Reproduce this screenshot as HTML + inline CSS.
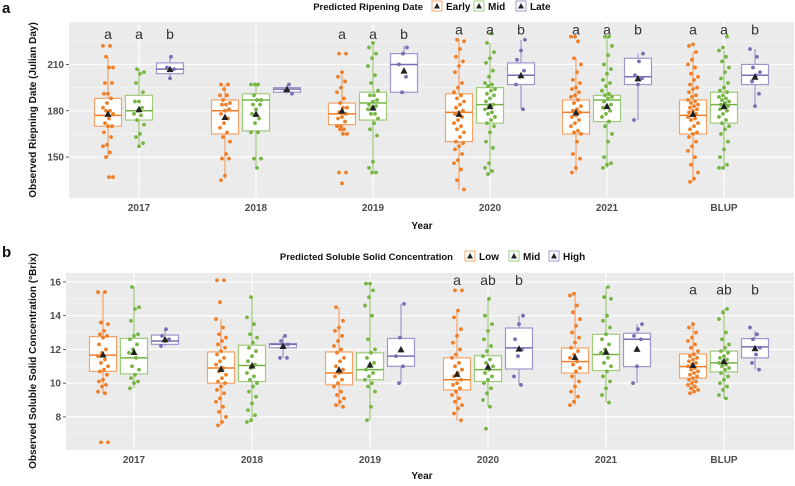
<!DOCTYPE html>
<html><head><meta charset="utf-8">
<style>
body{margin:0;background:#fff;width:795px;height:481px;overflow:hidden;font-family:"Liberation Sans",sans-serif}
svg text{font-family:"Liberation Sans",sans-serif}
</style></head>
<body>
<svg id="chart" width="795" height="481" xmlns="http://www.w3.org/2000/svg"></svg>
<script>
const years = ["2017","2018","2019","2020","2021","BLUP"];
const catA = ["Early","Mid","Late"];
const catB = ["Low","Mid","High"];
const ticksA = [150,180,210];
const ticksB = [8,10,12,14,16];
// panel a stats: [whiskerLo, q1, median, q3, whiskerHi, mean] per year per group
const statsA = [
 [[150,170,177,188,215,178],[157,174,180,190,207,181],[200,204,207,211,215,207]],
 [[136,165,180,187,197,176],[143,167,187,191,197,178],[191,192,194,195,197,194]],
 [[165,171,178,185,205,180],[140,174,185,192,224,182],[191,192,210,217,222,206]],
 [[129,160,179,191,226,178],[139,172,184,195,224,183],[181,197,203,211,226,203]],
 [[140,165,179,187,214,179],[143,173,187,190,228,183],[174,197,202,214,217,201]],
 [[134,165,177,187,218,178],[143,172,184,192,219,183],[182,197,203,210,220,202]]
];
const ptsA = [
 [[222,222,215,208,208,198,198,191,191,188,185,182,180,180,178,175,172,170,170,166,163,158,157,153,150,137,137],[207,205,204,198,192,186,186,182,180,178,177,174,171,165,163,159,157],[215,208,207,201]],
 [[197,197,194,190,190,187,185,184,184,181,180,178,175,172,169,166,163,160,152,149,149,138,135],[197,197,197,190,187,187,184,184,181,178,175,172,166,166,149,149,143],[197,193,191]],
 [[217,217,205,202,199,195,192,188,185,182,182,179,178,176,175,173,170,170,168,168,165,165,140,140,133],[224,221,217,214,209,203,198,193,190,190,187,186,184,183,182,181,178,178,175,172,168,164,147,143,140,140],[221,217,210,202,192]],
 [[226,225,220,215,212,209,205,198,195,192,190,188,186,184,182,180,179,178,176,174,172,170,168,166,163,160,159,157,155,152,148,146,142,135,129],[230,224,218,214,211,206,202,198,197,196,194,193,191,190,188,186,184,183,181,179,178,176,174,172,170,166,160,156,146,143,141,139],[226,219,213,206,202,197,181]],
 [[228,228,225,214,210,205,200,198,195,194,192,190,189,187,185,183,181,180,179,177,176,174,172,170,167,166,165,160,152,149,143,140],[228,228,222,216,210,207,204,200,198,196,193,191,190,189,188,186,184,183,182,180,178,176,173,170,165,160,150,146,145,143],[217,212,203,201,197,174]],
 [[223,222,218,213,210,208,204,202,200,197,195,194,192,190,189,187,186,185,184,183,182,181,180,179,178,177,176,175,174,172,170,168,166,165,163,160,157,154,150,145,140,136,134],[228,221,219,215,212,208,205,201,198,195,193,192,190,189,188,187,186,185,184,183,182,181,180,178,176,174,172,170,168,165,160,155,150,145,143,143],[220,215,208,205,203,199,191,183]]
];
const lettersA = [["a","a","b"],["","",""],["a","a","b"],["a","a","b"],["a","a","b"],["a","a","b"]];
// panel b stats
const statsB = [
 [[9.4,10.7,11.66,12.76,15.4,11.7],[9.7,10.55,11.5,12.65,15.7,11.85],[12.2,12.3,12.5,12.85,13.2,12.6]],
 [[7.5,10.0,10.9,11.85,13.8,10.85],[7.7,10.1,11.05,12.25,15.1,11.05],[11.5,12.1,12.3,12.35,12.8,12.2]],
 [[8.6,9.9,10.6,11.85,14.5,10.8],[7.8,10.2,10.8,11.8,15.9,11.1],[10.0,11.0,11.6,12.65,14.7,12.0]],
 [[7.8,9.6,10.2,11.5,14.3,10.55],[8.6,10.1,10.8,11.63,15.0,10.98],[9.9,10.84,12.09,13.27,14.0,12.05]],
 [[8.7,10.6,11.28,12.09,15.3,11.55],[8.85,10.75,11.7,12.9,15.7,11.87],[10.0,10.98,12.6,12.96,13.5,12.03]],
 [[9.4,10.3,10.98,11.73,13.5,11.08],[9.07,10.67,11.2,11.9,14.4,11.3],[10.8,11.5,12.15,12.64,13.1,12.07]]
];
const ptsB = [
 [[15.4,15.4,13.6,13.5,13.1,12.9,12.8,12.7,12.3,12.0,11.8,11.6,11.4,11.2,11.0,10.8,10.7,10.5,10.2,10.1,9.9,9.8,9.5,9.4,6.5,6.5],[15.7,14.5,14.4,13.7,12.9,12.8,12.6,12.3,12.0,11.8,11.5,11.0,10.8,10.5,10.3,10.1,10.0,9.7],[13.2,12.8,12.6,12.5,12.2]],
 [[16.1,16.1,14.8,13.8,13.3,12.9,12.7,12.5,12.3,12.1,11.9,11.7,11.5,11.3,11.1,10.9,10.7,10.5,10.3,10.1,10.0,9.8,9.6,9.4,9.1,8.9,8.6,8.3,8.0,7.7,7.5],[15.1,13.9,13.5,12.9,12.7,12.4,12.1,11.9,11.6,11.3,11.1,10.9,10.6,10.4,10.2,10.0,9.8,9.5,9.2,8.8,8.4,8.1,7.8,7.7],[12.8,12.5,12.3,12.2,11.5,11.5]],
 [[14.5,13.7,13.3,13.1,12.8,12.5,12.2,12.0,11.8,11.5,11.3,11.0,10.8,10.6,10.4,10.2,10.0,9.8,9.5,9.3,9.1,8.9,8.7,8.6],[15.9,15.9,15.5,15.1,14.6,14.0,12.6,12.0,11.8,11.5,11.2,11.0,10.8,10.6,10.4,10.2,10.0,9.8,9.5,8.6,7.8],[14.7,12.7,11.6,11.0,10.0]],
 [[15.5,15.5,14.3,13.9,13.2,12.8,12.4,12.0,11.7,11.5,11.2,11.0,10.8,10.6,10.4,10.2,10.0,9.9,9.7,9.5,9.3,9.1,8.9,8.7,8.5,8.2,7.8],[15.0,14.0,13.5,13.1,12.6,12.2,11.9,11.6,11.4,11.2,11.0,10.8,10.6,10.4,10.2,10.0,9.7,9.4,9.0,8.6,7.3],[14.0,13.5,12.6,12.0,11.6,10.4,9.9]],
 [[15.3,15.2,14.6,14.2,13.8,13.4,13.0,12.7,12.4,12.1,11.9,11.7,11.5,11.3,11.1,10.9,10.7,10.4,10.1,9.8,9.5,9.2,8.9,8.7],[15.7,15.1,15.0,14.0,13.7,13.3,12.9,12.6,12.3,12.0,11.8,11.5,11.2,11.0,10.7,10.4,10.1,9.7,9.3,8.85],[13.5,13.2,12.8,12.6,11.0,10.0]],
 [[13.5,13.3,13.0,12.7,12.5,12.3,12.1,11.9,11.7,11.6,11.5,11.4,11.3,11.2,11.1,11.0,10.9,10.8,10.7,10.6,10.5,10.4,10.3,10.2,10.1,10.0,9.9,9.8,9.7,9.6,9.5,9.4],[14.4,14.2,13.8,13.0,12.6,12.3,12.1,11.9,11.8,11.6,11.5,11.4,11.3,11.2,11.1,11.0,10.9,10.8,10.6,10.4,10.2,10.0,9.8,9.6,9.3,9.1],[13.3,12.9,12.6,12.1,11.7,11.2,10.8]]
];
const lettersB = [["","",""],["","",""],["","",""],["a","ab","b"],["","",""],["a","ab","b"]];
const letterValsA = [229,null,229,232,232,232];
const letterValsB = [16.05,null,null,16.05,null,15.5];

const NS="http://www.w3.org/2000/svg";
const svg=document.getElementById('chart');
const cols=["#F07E26","#76B543","#7570B3"];
const boxCols=["#F4A46A","#9FCB7C","#9C98CC"];
function mk(tag,attrs,parent){const e=document.createElementNS(NS,tag);for(const k in attrs)e.setAttribute(k,attrs[k]);(parent||svg).appendChild(e);return e;}

function panel(o){
  const g=mk('g',{});
  
  
  const yv=v=>o.y1-(v-o.vmin)/(o.vmax-o.vmin)*(o.y1-o.y0);
  const xc=i=>o.xstart+i*o.xstep;
  const bg=mk('rect',{x:o.x0,y:o.y0,width:o.x1-o.x0,height:o.y1-o.y0,fill:'#EBEBEB'},g);
  
  
  // minor grid
  for(let k=0;k<o.ticks.length;k++){
    const t=o.ticks[k];const m=t-o.tstep/2;
    [m, t+o.tstep/2].forEach(mv=>{if(mv>o.vmin&&mv<o.vmax)mk('line',{x1:o.x0,x2:o.x1,y1:yv(mv),y2:yv(mv),stroke:'#F7F7F7','stroke-width':0.6},g);});
  }
  o.ticks.forEach(t=>{
    mk('line',{x1:o.x0,x2:o.x1,y1:yv(t),y2:yv(t),stroke:'#fff','stroke-width':1.1},g);
    mk('line',{x1:o.x0-3,x2:o.x0,y1:yv(t),y2:yv(t),stroke:'#333','stroke-width':0.8},g);
    const tl=mk('text',{x:o.x0-5,y:yv(t)+3.5,'text-anchor':'end','font-size':10,'font-weight':'bold',fill:'#4D4D4D'},g);
    tl.textContent=t;
    
    
  });
  years.forEach((yr,i)=>{
    mk('line',{x1:xc(i),x2:xc(i),y1:o.y0,y2:o.y1,stroke:'#fff','stroke-width':1.1},g);
    const xl=mk('text',{x:xc(i),y:o.y1+13,'text-anchor':'middle','font-size':10,'font-weight':'bold',fill:'#4D4D4D'},g);
    xl.textContent=yr;
    
    
    for(let j=0;j<3;j++){
      const s=o.stats[i][j];const cx=xc(i)+(j-1)*o.dodge;const hw=o.bw/2;
      const bg2=mk('g',{},g);
      
      
      mk('line',{x1:cx,x2:cx,y1:yv(s[0]),y2:yv(s[4]),stroke:boxCols[j],'stroke-width':1.2},bg2);
      mk('rect',{x:cx-hw,y:yv(s[3]),width:o.bw,height:yv(s[1])-yv(s[3]),fill:'#fff',stroke:boxCols[j],'stroke-width':1.2},bg2);
      mk('line',{x1:cx-hw,x2:cx+hw,y1:yv(s[2]),y2:yv(s[2]),stroke:cols[j],'stroke-width':1.5},bg2);
      o.pts[i][j].forEach((v,k)=>{
        const jit=(((k*7+j*3+i)%11)/10-0.5)*o.jw;
        const c=mk('circle',{cx:cx+jit,cy:yv(v),r:1.9,fill:cols[j]},bg2);
        
        
      });
      const my=yv(s[5]);
      mk('path',{d:`M${cx-3.5},${my+3} L${cx+3.5},${my+3} L${cx},${my-3.5} Z`,fill:'#222'},bg2);
      if(o.letters[i][j]){
        const lt=mk('text',{x:cx,y:yv(o.lv[i])+4,'text-anchor':'middle','font-size':14,fill:'#333'},g);
        lt.textContent=o.letters[i][j];
        
        
      }
    }
  });
}
panel({name:'panel-a-ripening',x0:69,x1:794,y0:22,y1:198,vmin:123.5,vmax:237.5,ticks:ticksA,tstep:30,xstart:139,xstep:117,dodge:31,bw:27,jw:10,stats:statsA,pts:ptsA,cats:catA,letters:lettersA,lv:letterValsA});
panel({name:'panel-b-ssc',x0:66,x1:794,y0:273,y1:450,vmin:6.04,vmax:16.53,ticks:ticksB,tstep:2,xstart:134,xstep:118,dodge:31,bw:27,jw:10,stats:statsB,pts:ptsB,cats:catB,letters:lettersB,lv:letterValsB});

function txt(s,attrs,name){const t=mk('text',attrs);t.textContent=s;return t;}
txt('a',{x:2,y:13,'font-size':15,'font-weight':'bold',fill:'#111'},'panel-a-label');
txt('b',{x:2,y:257,'font-size':15,'font-weight':'bold',fill:'#111'},'panel-b-label');
txt('Year',{x:422,y:229,'text-anchor':'middle','font-size':10,'font-weight':'bold',fill:'#111'},'x-axis-title-a');
txt('Year',{x:422,y:479,'text-anchor':'middle','font-size':10,'font-weight':'bold',fill:'#111'},'x-axis-title-b');
txt('Observed Riepning Date (Julian Day)',{x:0,y:0,transform:'translate(36,110) rotate(-90)','text-anchor':'middle','font-size':10,'font-weight':'bold',fill:'#111'},'y-axis-title-a');
txt('Observed Soluble Solid Concentration (°Brix)',{x:0,y:0,transform:'translate(36,361) rotate(-90)','text-anchor':'middle','font-size':10,'font-weight':'bold',fill:'#111'},'y-axis-title-b');

function legend(title,tx,ty,items){
  const g=mk('g',{});
  
  
  const t=mk('text',{x:tx,y:ty+4,'text-anchor':'end','font-size':9.5,'font-weight':'bold',fill:'#111'},g);t.textContent=title;
  items.forEach((it,j)=>{
    const e=mk('g',{},g);
    
    
    const kx=it[1];
    mk('rect',{x:kx,y:ty-5,width:10,height:10,fill:'#fff',stroke:boxCols[j],'stroke-width':1},e);
    mk('path',{d:`M${kx+2},${ty+2.5} L${kx+8},${ty+2.5} L${kx+5},${ty-3} Z`,fill:'#222'},e);
    const l=mk('text',{x:kx+14,y:ty+4,'font-size':10,'font-weight':'bold',fill:'#111'},e);l.textContent=it[0];
  });
}
legend('Predicted Ripening Date',423,6,[['Early',432],['Mid',474],['Late',516]]);
legend('Predicted Soluble Solid Concentration',453,256,[['Low',465],['Mid',509],['High',549]]);
</script>
</body></html>
